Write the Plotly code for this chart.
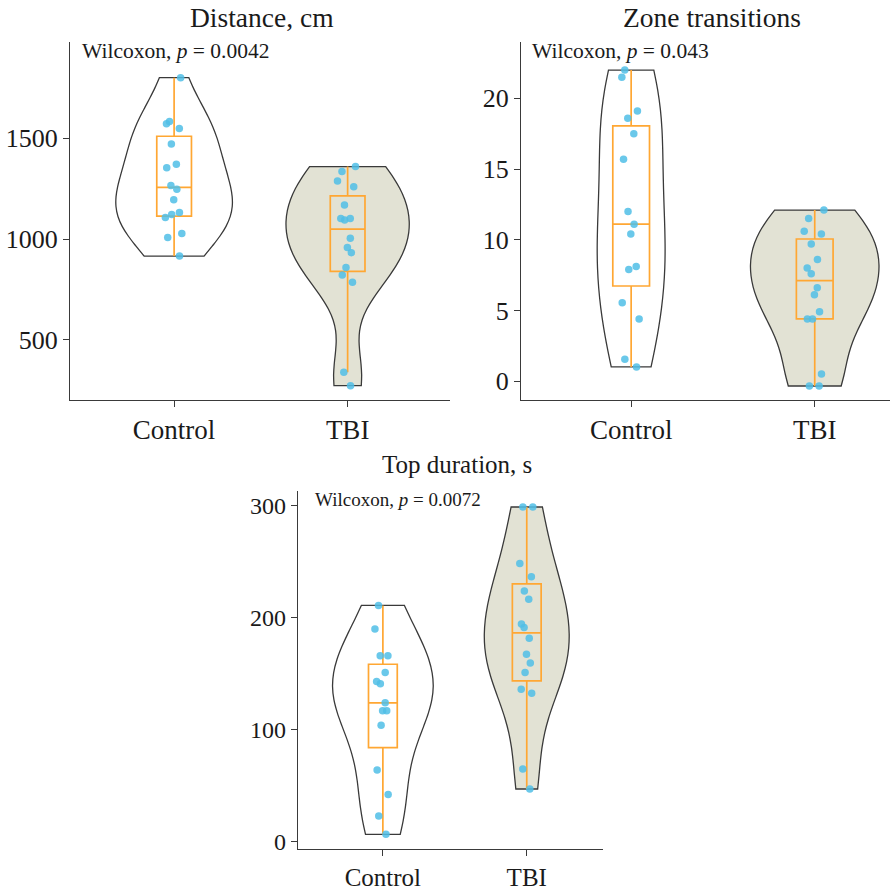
import plotly.graph_objects as go

# ---------------- data ----------------
groups = ["Control", "TBI"]

dist_control = [1801, 1584, 1572, 1549, 1472, 1372, 1354, 1266, 1247, 1196, 1132, 1122, 1107, 1028, 1008, 916]
dist_tbi = [1360, 1336, 1288, 1260, 1169, 1102, 1102, 1095, 1005, 959, 933, 859, 822, 786, 340, 273]

zone_control = [22.0, 21.5, 19.1, 18.6, 17.5, 15.7, 12.0, 11.1, 10.4, 8.1, 7.9, 5.55, 4.4, 1.55, 1.0]
zone_tbi = [12.1, 11.5, 10.6, 10.4, 9.7, 8.6, 8.0, 7.6, 6.6, 6.1, 4.9, 4.4, 4.4, 0.5, -0.35, -0.35]

top_control = [211, 190, 166, 166, 151, 143, 141, 124, 117, 117, 104, 64, 42, 23, 6.5]
top_tbi = [299, 299, 248.5, 236.7, 224, 216.6, 194.4, 191.4, 181.7, 167.5, 159.5, 151.2, 136.1, 132.5, 64.8, 47]

titles = ["Distance, cm", "Zone transitions", "Top duration, s"]
pvals = ["0.0042", "0.043", "0.0072"]
yticks = [[500, 1000, 1500], [0, 5, 10, 15, 20], [0, 100, 200, 300]]

# ---------------- styles ----------------
FONT = "Liberation Serif"
OUTLINE = "#3a3a3a"
TBI_FILL = "#E2E2D4"
BOX_COLOR = "#FFA733"
POINT_COLOR = "rgba(80,190,230,0.85)"
TEXT = "#1a1a1a"

panels = [
    dict(data=[dist_control, dist_tbi], vw=[0.67, 0.71], xa="x", ya="y"),
    dict(data=[zone_control, zone_tbi], vw=[0.37, 0.70], xa="x2", ya="y2"),
    dict(data=[top_control, top_tbi], vw=[0.70, 0.59], xa="x3", ya="y3"),
]

fig = go.Figure()

for p in panels:
    for gi, vals in enumerate(p["data"]):
        fig.add_trace(go.Violin(
            x=[gi] * len(vals), y=vals,
            xaxis=p["xa"], yaxis=p["ya"],
            spanmode="hard", width=p["vw"][gi],
            fillcolor="white" if gi == 0 else TBI_FILL,
            line=dict(color=OUTLINE, width=1.3),
            points=False, box_visible=False, meanline_visible=False,
            showlegend=False, hoverinfo="skip",
        ))
    for gi, vals in enumerate(p["data"]):
        fig.add_trace(go.Box(
            x=[gi] * len(vals), y=vals,
            xaxis=p["xa"], yaxis=p["ya"],
            width=0.2, boxpoints="all", jitter=0.6, pointpos=0,
            quartilemethod="inclusive", whiskerwidth=0,
            fillcolor="rgba(0,0,0,0)",
            line=dict(color=BOX_COLOR, width=1.7),
            marker=dict(color=POINT_COLOR, size=7.5, line=dict(width=0)),
            showlegend=False,
        ))

axis_common = dict(
    showline=True, linecolor=OUTLINE, linewidth=1.3,
    ticks="outside", ticklen=6, tickcolor=OUTLINE, tickwidth=1.2,
    showgrid=False, zeroline=False,
)
yfont = dict(family=FONT, size=26, color=TEXT)
xfont = dict(family=FONT, size=27, color=TEXT)
yfont3 = dict(family=FONT, size=24, color=TEXT)
xfont3 = dict(family=FONT, size=25, color=TEXT)

fig.update_layout(
    width=890, height=892,
    margin=dict(l=0, r=0, t=0, b=0),
    paper_bgcolor="white", plot_bgcolor="white",
    font=dict(family=FONT, color=TEXT),
    xaxis=dict(domain=[70 / 890, 450 / 890], range=[-0.6, 1.59], anchor="y",
               tickvals=[0, 1], ticktext=groups, tickfont=xfont, **axis_common),
    yaxis=dict(domain=[1 - 402.3 / 892, 1 - 42.7 / 892], range=[204, 1976], anchor="x",
               tickvals=yticks[0], tickfont=yfont, **axis_common),
    xaxis2=dict(domain=[521 / 890, 1.0], range=[-0.6, 1.41], anchor="y2",
                tickvals=[0, 1], ticktext=groups, tickfont=xfont, **axis_common),
    yaxis2=dict(domain=[1 - 402.3 / 892, 1 - 42.7 / 892], range=[-1.31, 23.96], anchor="x2",
                tickvals=yticks[1], tickfont=yfont, **axis_common),
    xaxis3=dict(domain=[298 / 890, 603 / 890], range=[-0.59, 1.53], anchor="y3",
                tickvals=[0, 1], ticktext=groups, tickfont=xfont3, **axis_common),
    yaxis3=dict(domain=[1 - 854.3 / 892, 1 - 494.3 / 892], range=[-6.2, 313.3], anchor="x3",
                tickvals=yticks[2], tickfont=yfont3, **axis_common),
)

# titles
title_pos = [(262, 18, 27.5), (712, 18, 27.5), (457, 468, 25)]
for t, (px, py, fs) in zip(titles, title_pos):
    fig.add_annotation(text=t, xref="paper", yref="paper",
                       x=px / 890, y=1 - py / 892, xanchor="center", yanchor="middle",
                       showarrow=False, font=dict(family=FONT, size=fs, color=TEXT))

# Wilcoxon labels
wil_sizes = [21.5, 21.5, 19]
for i, (pv, xd) in enumerate(zip(pvals, ["x domain", "x2 domain", "x3 domain"])):
    yd = ["y domain", "y2 domain", "y3 domain"][i]
    fig.add_annotation(text=f"Wilcoxon, <i>p</i> = {pv}", xref=xd, yref=yd,
                       x=0.025 if i < 2 else 0.05, y=0.977 if i < 2 else 0.975,
                       xanchor="left", yanchor="middle",
                       showarrow=False, font=dict(family=FONT, size=wil_sizes[i], color=TEXT))

fig.write_html("out.html")
